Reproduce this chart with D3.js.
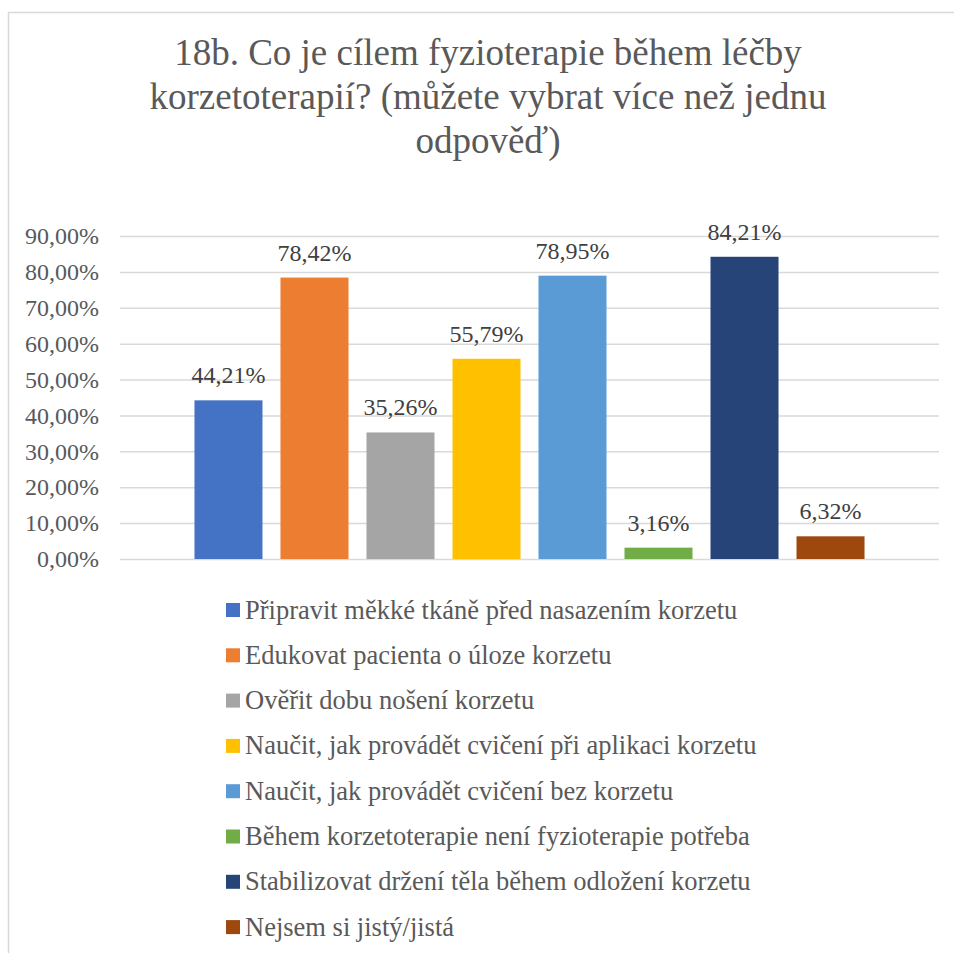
<!DOCTYPE html>
<html>
<head>
<meta charset="utf-8">
<script src="https://cdn.jsdelivr.net/npm/d3@7"></script>
<style>
  svg text { font-family: "Liberation Serif", serif !important; }
</style>
</head>
<body style="margin:0">
<svg id="chart" width="954" height="953"></svg>
<script>
// Survey question 18b: goals of physiotherapy during brace treatment
const titleLines = [
  "18b. Co je cílem fyzioterapie během léčby",
  "korzetoterapií? (můžete vybrat více než jednu",
  "odpověď)"
];
const categories = [
  "Připravit měkké tkáně před nasazením korzetu",
  "Edukovat pacienta o úloze korzetu",
  "Ověřit dobu nošení korzetu",
  "Naučit, jak provádět cvičení při aplikaci korzetu",
  "Naučit, jak provádět cvičení bez korzetu",
  "Během korzetoterapie není fyzioterapie potřeba",
  "Stabilizovat držení těla během odložení korzetu",
  "Nejsem si jistý/jistá"
];
const values = [44.21, 78.42, 35.26, 55.79, 78.95, 3.16, 84.21, 6.32];
const colors = ["#4472C4", "#ED7D31", "#A5A5A5", "#FFC000", "#5B9BD5", "#70AD47", "#264478", "#9E480E"];
const yTicks = [0, 10, 20, 30, 40, 50, 60, 70, 80, 90];

const FONT = '"Liberation Serif", serif';
const svg = d3.select("#chart").style("font-family", FONT, "important");
const fmt = v => v.toFixed(2).replace(".", ",") + "%";

// chart frame
svg.append("rect")
  .attr("x", 8.5).attr("y", 12.5)
  .attr("width", 960).attr("height", 960)
  .attr("fill", "#fff").attr("stroke", "#D9D9D9").attr("stroke-width", 1.5);

// title
svg.selectAll("text.title").data(titleLines).join("text")
  .attr("class", "title")
  .attr("x", 488)
  .attr("y", (d, i) => 65 + i * 44)
  .attr("text-anchor", "middle")
  .attr("font-size", 37)
  .style("font-family", FONT, "important")
  .attr("fill", "#595959")
  .text(d => d);

const plot = { left: 120, right: 939, top: 236, bottom: 559 };

const y = d3.scaleLinear().domain([0, 90]).range([plot.bottom, plot.top]);
const x = d3.scaleBand()
  .domain(categories)
  .range([plot.left, plot.right])
  .paddingInner(18 / 86)
  .paddingOuter(0.866);

// gridlines and percentage tick labels
const yAxis = d3.axisLeft(y).tickValues(yTicks).tickSize(-(plot.right - plot.left)).tickFormat(d => fmt(d));
const gAxis = svg.append("g")
  .attr("transform", `translate(${plot.left},0)`)
  .call(yAxis)
  .attr("font-family", null)
  .style("font-family", FONT, "important");
gAxis.select(".domain").remove();
gAxis.selectAll(".tick line").attr("stroke", "#D9D9D9").attr("stroke-width", 1.5);
gAxis.selectAll(".tick text")
  .attr("x", -21)
  .attr("font-size", 24)
  .style("font-family", FONT, "important")
  .attr("fill", "#595959");

// bars
svg.selectAll("rect.bar").data(values).join("rect")
  .attr("class", "bar")
  .attr("x", (d, i) => x(categories[i]))
  .attr("y", d => y(d))
  .attr("width", x.bandwidth())
  .attr("height", d => y(0) - y(d))
  .attr("fill", (d, i) => colors[i]);

// value labels
svg.selectAll("text.value").data(values).join("text")
  .attr("class", "value")
  .attr("x", (d, i) => x(categories[i]) + x.bandwidth() / 2)
  .attr("y", d => y(d) - 17)
  .attr("text-anchor", "middle")
  .attr("font-size", 24)
  .style("font-family", FONT, "important")
  .attr("fill", "#404040")
  .text(d => fmt(d));

// legend
svg.selectAll("rect.key").data(categories).join("rect")
  .attr("class", "key")
  .attr("x", 226)
  .attr("y", (d, i) => 603 + i * 45.3)
  .attr("width", 14).attr("height", 14)
  .attr("fill", (d, i) => colors[i]);
svg.selectAll("text.key").data(categories).join("text")
  .attr("class", "key")
  .attr("x", 245)
  .attr("y", (d, i) => 618.5 + i * 45.3)
  .attr("font-size", 26.5)
  .style("font-family", FONT, "important")
  .attr("fill", "#595959")
  .text(d => d);
</script>
</body>
</html>
